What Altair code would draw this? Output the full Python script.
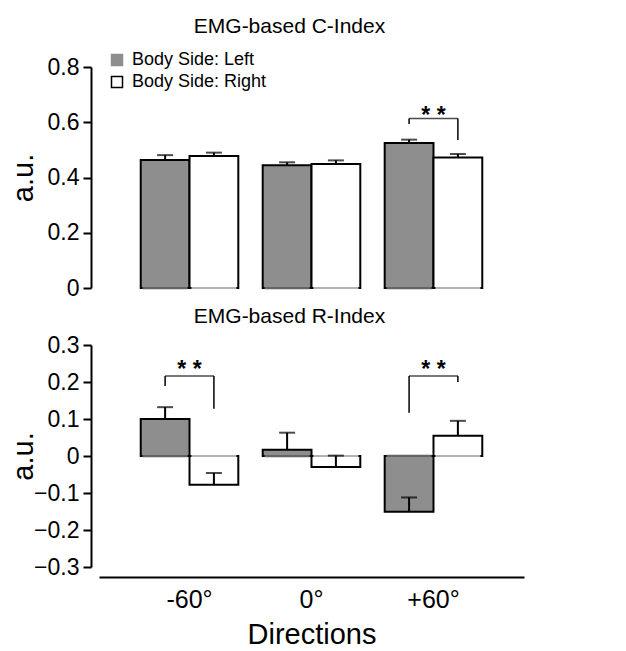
import altair as alt
import pandas as pd

directions = ["-60°", "0°", "+60°"]
sides = ["Body Side: Left", "Body Side: Right"]

c_left = [0.463, 0.444, 0.525]
c_left_err = [0.018, 0.011, 0.012]
c_right = [0.478, 0.449, 0.472]
c_right_err = [0.012, 0.013, 0.013]

r_left = [0.100, 0.017, -0.151]
r_left_err = [0.032, 0.046, 0.039]
r_right = [-0.078, -0.030, 0.055]
r_right_err = [0.032, 0.031, 0.040]

# significance brackets
c_sig_dir = ["+60°"]
c_sig_top = [0.614]
c_sig_left_end = [0.594]
c_sig_right_end = [0.536]
c_sig_star = [0.644]

r_sig_dir = ["-60°", "+60°"]
r_sig_top = [0.216, 0.216]
r_sig_left_end = [0.189, 0.117]
r_sig_right_end = [0.128, 0.200]
r_sig_star = [0.25, 0.25]

c_ticks = [0, 0.2, 0.4, 0.6, 0.8]
r_ticks = [-0.3, -0.2, -0.1, 0, 0.1, 0.2, 0.3]

GRAY = "#8e8e8e"
FONT = "Liberation Sans"


def bars_df(left, left_err, right, right_err):
    rows = []
    for i, d in enumerate(directions):
        rows.append({"Direction": d, "Side": sides[0], "value": left[i], "errtop": left[i] + left_err[i]})
        rows.append({"Direction": d, "Side": sides[1], "value": right[i], "errtop": right[i] + right_err[i]})
    return pd.DataFrame(rows)


def sig_dfs(dirs, tops, lends, rends, stars):
    legs = []
    heads = []
    for i, d in enumerate(dirs):
        legs.append({"Direction": d, "Side": sides[0], "y1": tops[i], "y2": lends[i]})
        legs.append({"Direction": d, "Side": sides[1], "y1": tops[i], "y2": rends[i]})
        heads.append({"Direction": d, "top": tops[i], "star": stars[i]})
    return pd.DataFrame(legs), pd.DataFrame(heads)


xscale = alt.Scale(domain=directions, paddingInner=0.2, paddingOuter=0.342)
xoff = alt.XOffset("Side:N", scale=alt.Scale(domain=sides, paddingInner=0, paddingOuter=0))


def panel(df, legs, heads, domain, ticks, title, title_offset, show_x, show_legend):
    yscale = alt.Scale(domain=domain, nice=False, zero=False)
    yaxis = alt.Axis(values=ticks, tickCount=12, format="~g", labelOverlap=False, labelFlush=False,
                     offset=8, domainWidth=2, domainColor="black",
                     tickWidth=2, tickSize=8, tickColor="black", labelFontSize=23,
                     labelColor="black", labelPadding=4, grid=False, title="a.u.",
                     titleFontSize=29, titleFontWeight="normal", titleColor="black",
                     titleX=-53, titleAngle=-90)
    if show_x:
        xaxis = alt.Axis(offset=10, domainWidth=2, domainColor="black", ticks=False,
                         labelFontSize=25, labelColor="black", labelPadding=10, labelAngle=0,
                         title="Directions", titleFontSize=29, titleFontWeight="normal",
                         titleColor="black", titlePadding=8)
    else:
        xaxis = None
    x = alt.X("Direction:N", sort=directions, scale=xscale, axis=xaxis)
    if show_legend:
        legend = alt.Legend(title=None, orient="none", legendX=9, legendY=-16,
                            symbolType="square", symbolSize=121, symbolStrokeWidth=1.5,
                            symbolStrokeColor=alt.ExprRef(expr="datum.value === 'Body Side: Left' ? '#8e8e8e' : 'black'"),
                            labelFontSize=18, labelColor="black", labelOffset=6,
                            rowPadding=4, padding=0)
    else:
        legend = None
    base = alt.Chart(df)
    bars = base.mark_bar(stroke="black", strokeWidth=2).encode(
        x=x, xOffset=xoff,
        y=alt.Y("value:Q", scale=yscale, axis=yaxis),
        fill=alt.Fill("Side:N", scale=alt.Scale(domain=sides, range=[GRAY, "white"]), legend=legend),
    )
    cover = base.mark_tick(orient="horizontal", size=45, thickness=3).encode(
        x=x, xOffset=xoff, y=alt.datum(0),
        color=alt.condition(alt.datum.Side == sides[0], alt.value(GRAY), alt.value("white")),
    )
    stems = base.mark_rule(strokeWidth=2, color="black").encode(
        x=x, xOffset=xoff, y="value:Q", y2="errtop:Q")
    caps = base.mark_tick(orient="horizontal", size=16, thickness=2, color="black").encode(
        x=x, xOffset=xoff, y="errtop:Q")
    leg = alt.Chart(legs).mark_rule(strokeWidth=1.5, color="black").encode(
        x=x, xOffset=xoff, y="y1:Q", y2="y2:Q")
    hbar = alt.Chart(heads).mark_tick(orient="horizontal", size=49, thickness=1.5, color="black").encode(
        x=x, y="top:Q")
    stars = alt.Chart(heads).mark_text(text="* *", fontSize=23, fontWeight="bold", dy=6,
                                       font=FONT, color="black").encode(x=x, y="star:Q")
    return alt.layer(bars, cover, stems, caps, leg, hbar, stars).properties(
        width=425, height=221 if not show_x else 222,
        title=alt.TitleParams(title, fontSize=21, fontWeight="normal", anchor="middle",
                              dx=-22, offset=title_offset, color="black", font=FONT),
    )


cdf = bars_df(c_left, c_left_err, c_right, c_right_err)
rdf = bars_df(r_left, r_left_err, r_right, r_right_err)
c_legs, c_heads = sig_dfs(c_sig_dir, c_sig_top, c_sig_left_end, c_sig_right_end, c_sig_star)
r_legs, r_heads = sig_dfs(r_sig_dir, r_sig_top, r_sig_left_end, r_sig_right_end, r_sig_star)

top = panel(cdf, c_legs, c_heads, [0, 0.8], c_ticks, "EMG-based C-Index", 14, False, True)
bottom = panel(rdf, r_legs, r_heads, [-0.3, 0.3], r_ticks, "EMG-based R-Index", 7, True, False)

chart = alt.vconcat(top, bottom, spacing=6).resolve_scale(fill="independent").resolve_legend(
    fill="independent").properties(padding={"left": 1, "top": 8, "right": 5, "bottom": 2}).configure(
    font=FONT).configure_view(stroke=None)

chart.save("out.html", embed_options={"renderer": "svg", "actions": False})
